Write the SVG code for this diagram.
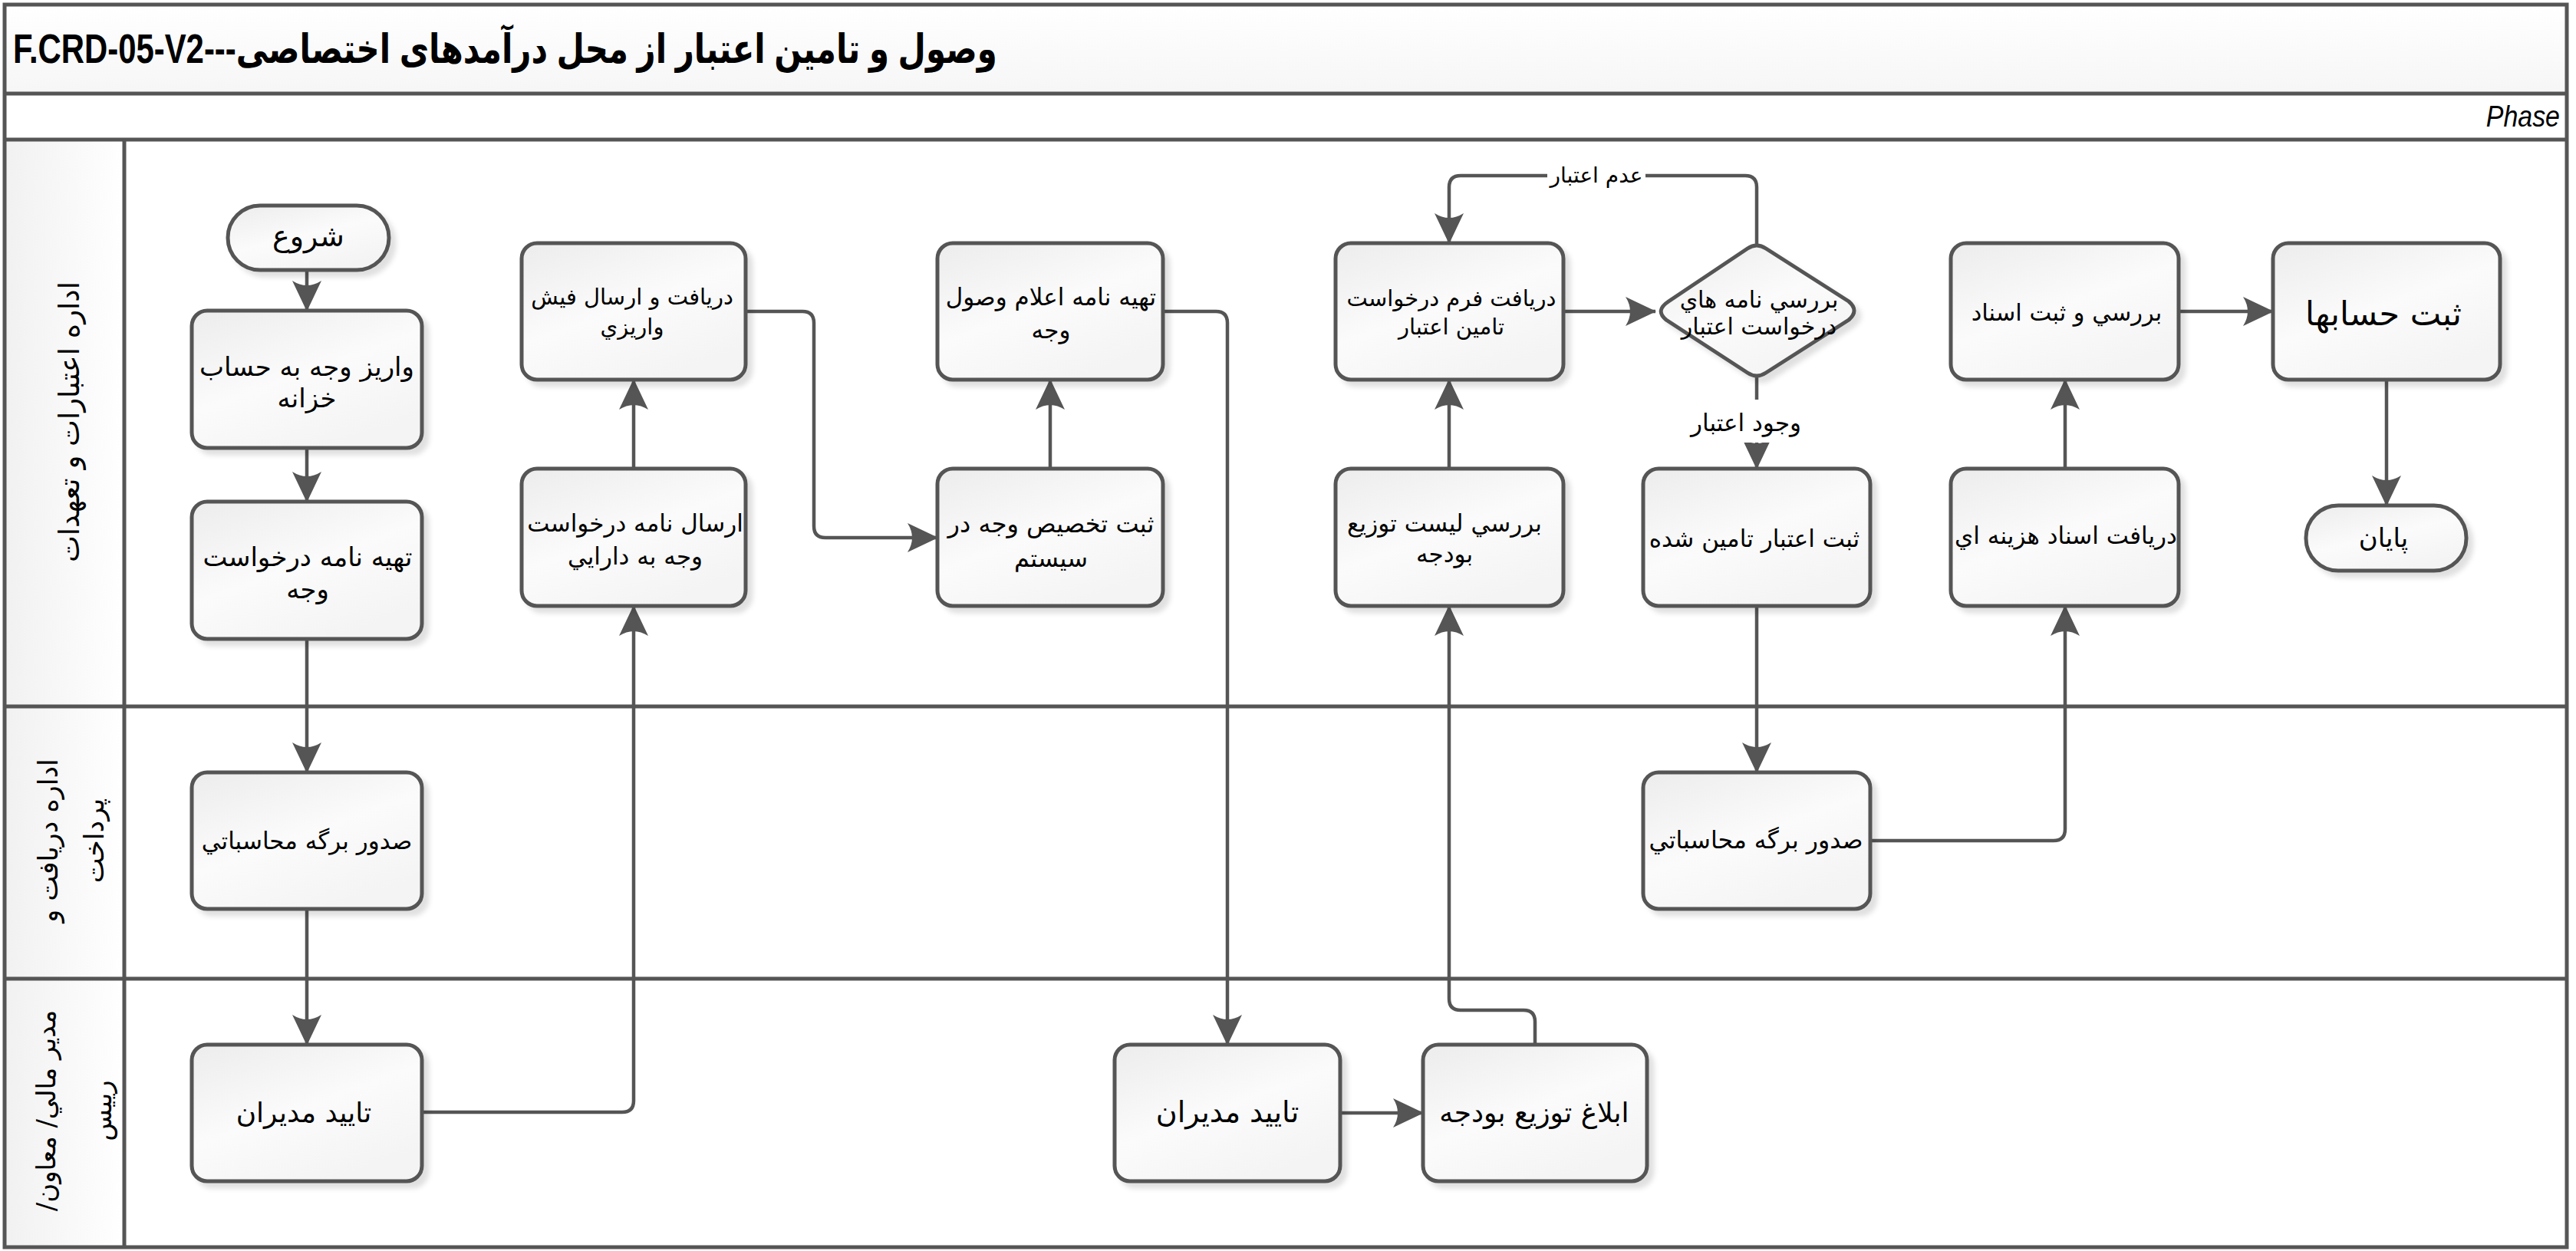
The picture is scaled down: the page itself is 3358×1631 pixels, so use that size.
<svg xmlns="http://www.w3.org/2000/svg" width="3358" height="1631" viewBox="0 0 3358 1631">
<style>
.frame{fill:none;stroke:#555;stroke-width:5}
.sep{stroke:#555;stroke-width:5}
.box{fill:url(#gBox);stroke:#555;stroke-width:5;filter:url(#sh)}
.t{font-family:"DejaVu Sans",sans-serif;fill:#000;direction:rtl;text-anchor:middle;dominant-baseline:central}
.c{fill:none;stroke:#555;stroke-width:4.5;marker-end:url(#ah)}
.lbl{font-family:"DejaVu Sans",sans-serif;fill:#000;direction:rtl;text-anchor:middle;dominant-baseline:central}
</style>
<defs>
<linearGradient id="gBox" x1="0" y1="0" x2="0.6" y2="1">
<stop offset="0" stop-color="#ececec"/><stop offset="0.55" stop-color="#fbfbfb"/><stop offset="1" stop-color="#f4f4f4"/>
</linearGradient>
<linearGradient id="gLane" x1="0" y1="0" x2="1" y2="0">
<stop offset="0" stop-color="#f1f1f1"/><stop offset="1" stop-color="#ffffff"/>
</linearGradient>
<linearGradient id="gTitle" x1="0" y1="0" x2="0" y2="1">
<stop offset="0" stop-color="#ffffff"/><stop offset="1" stop-color="#f6f6f6"/>
</linearGradient>
<filter id="sh" x="-10%" y="-10%" width="130%" height="130%">
<feDropShadow dx="7" dy="7" stdDeviation="3" flood-color="#000" flood-opacity="0.12"/>
</filter>
<marker id="ah" markerUnits="userSpaceOnUse" markerWidth="40" markerHeight="38" viewBox="0 0 40 38" refX="39" refY="19" orient="auto">
<path d="M40,19 L0,0 Q12,19 0,38 Z" fill="#555"/>
</marker>
</defs>

<g id="pool">
<rect x="6" y="6" width="3340" height="116" fill="url(#gTitle)"/>
<rect x="7" y="182" width="155" height="1444" fill="url(#gLane)"/>
<rect class="frame" x="6" y="6" width="3340" height="1620"/>
<line class="sep" x1="6" y1="122" x2="3346" y2="122"/>
<line class="sep" x1="6" y1="182" x2="3346" y2="182"/>
<line class="sep" x1="6" y1="921" x2="3346" y2="921"/>
<line class="sep" x1="6" y1="1276" x2="3346" y2="1276"/>
<line class="sep" x1="162" y1="182" x2="162" y2="1626"/>
<text transform="translate(17,64) scale(0.79,1)" x="0" y="0" font-family="'Liberation Sans','DejaVu Sans',sans-serif" font-weight="bold" font-size="53" direction="rtl" text-anchor="end" dominant-baseline="central">وصول و تامین اعتبار از محل درآمدهای اختصاصی---F.CRD-05-V2</text>
<text transform="translate(3337,152) scale(0.87,1)" x="0" y="0" font-family="'Liberation Sans',sans-serif" font-style="italic" font-size="39" text-anchor="end" dominant-baseline="central">Phase</text>
</g>

<g id="lane1"><text class="t" font-size="37" transform="translate(90,550) rotate(-90)">اداره اعتبارات و تعهدات</text></g>
<g id="lane2"><text class="t" font-size="35" transform="translate(93,1096) rotate(-90)"><tspan x="0" y="-30">اداره دريافت و</tspan><tspan x="0" y="30">پرداخت</tspan></text></g>
<g id="lane3"><text class="t" font-size="34" transform="translate(96,1448) rotate(-90)"><tspan x="0" y="-36">مدير مالي/ معاون/</tspan><tspan x="0" y="37">رييس</tspan></text></g>

<g id="connectors">
<path class="c" d="M400,352 V405"/>
<path class="c" d="M400,584 V654"/>
<path class="c" d="M400,833 V1007"/>
<path class="c" d="M400,1185 V1362"/>
<path class="c" d="M550,1450 H811 Q826,1450 826,1435 V790"/>
<path class="c" d="M826,611 V495"/>
<path class="c" d="M972,406 H1046 Q1061,406 1061,421 V686 Q1061,701 1076,701 H1222"/>
<path class="c" d="M1369,611 V495"/>
<path class="c" d="M1516,406 H1585 Q1600,406 1600,421 V1362"/>
<path class="c" d="M1747,1451 H1855"/>
<path class="c" d="M2001,1362 V1332 Q2001,1317 1986,1317 H1904 Q1889,1317 1889,1302 V790"/>
<path class="c" d="M1889,611 V495"/>
<path class="c" d="M2038,406 H2158"/>
<path class="c" d="M2290,318 V244 Q2290,229 2275,229 H1904 Q1889,229 1889,244 V317"/>
<rect x="2017" y="206" width="128" height="44" fill="#fff"/>
<text class="lbl" font-size="28" x="2081" y="228">عدم اعتبار</text>
<path class="c" d="M2290,492 V611"/>
<rect x="2198" y="521" width="156" height="56" fill="#fff"/>
<text class="lbl" font-size="31" x="2276" y="551">وجود اعتبار</text>
<path class="c" d="M2290,790 V1007"/>
<path class="c" d="M2438,1096 H2677 Q2692,1096 2692,1081 V790"/>
<path class="c" d="M2692,611 V495"/>
<path class="c" d="M2840,406 H2963"/>
<path class="c" d="M3111,495 V659"/>
</g>

<g id="start"><rect class="box" x="297" y="268" width="210" height="84" rx="42"/><text class="t" font-size="38" x="402" y="308">شروع</text></g>
<g id="n1"><rect class="box" x="250" y="405" width="300" height="179" rx="20"/><text class="t" font-size="34"><tspan x="400" y="478">واريز وجه به حساب</tspan><tspan x="400" y="519">خزانه</tspan></text></g>
<g id="n2"><rect class="box" x="250" y="654" width="300" height="179" rx="20"/><text class="t" font-size="34"><tspan x="401" y="726">تهيه نامه درخواست</tspan><tspan x="401" y="768">وجه</tspan></text></g>
<g id="n3"><rect class="box" x="250" y="1007" width="300" height="178" rx="20"/><text class="t" font-size="31" x="400" y="1096">صدور برگه محاسباتي</text></g>
<g id="n4"><rect class="box" x="250" y="1362" width="300" height="178" rx="20"/><text class="t" font-size="36" x="396" y="1450">تاييد مديران</text></g>
<g id="n5"><rect class="box" x="680" y="317" width="292" height="178" rx="20"/><text class="t" font-size="29"><tspan x="824" y="387">دريافت و ارسال فيش</tspan><tspan x="824" y="426">واريزي</tspan></text></g>
<g id="n6"><rect class="box" x="680" y="611" width="292" height="179" rx="20"/><text class="t" font-size="31"><tspan x="828" y="682">ارسال نامه درخواست</tspan><tspan x="828" y="725">وجه به دارايي</tspan></text></g>
<g id="n7"><rect class="box" x="1222" y="317" width="294" height="178" rx="20"/><text class="t" font-size="31"><tspan x="1370" y="387">تهيه نامه اعلام وصول</tspan><tspan x="1370" y="430">وجه</tspan></text></g>
<g id="n8"><rect class="box" x="1222" y="611" width="294" height="179" rx="20"/><text class="t" font-size="32"><tspan x="1370" y="683">ثبت تخصيص وجه در</tspan><tspan x="1370" y="728">سيستم</tspan></text></g>
<g id="n9"><rect class="box" x="1453" y="1362" width="294" height="178" rx="20"/><text class="t" font-size="38" x="1600" y="1450">تاييد مديران</text></g>
<g id="n10"><rect class="box" x="1855" y="1362" width="292" height="178" rx="20"/><text class="t" font-size="36" x="2000" y="1450">ابلاغ توزيع بودجه</text></g>
<g id="n11"><rect class="box" x="1741" y="317" width="297" height="178" rx="20"/><text class="t" font-size="29"><tspan x="1892" y="389">دريافت فرم درخواست</tspan><tspan x="1892" y="426">تامين اعتبار</tspan></text></g>
<g id="n12"><rect class="box" x="1741" y="611" width="297" height="179" rx="20"/><text class="t" font-size="31"><tspan x="1883" y="682">بررسي ليست توزيع</tspan><tspan x="1883" y="722">بودجه</tspan></text></g>
<g id="n13"><path class="box" d="M2175,393 L2278,324 Q2290,316 2302,324 L2410,393 Q2424,405 2410,417 L2302,486 Q2290,494 2278,486 L2172,417 Q2157,405 2175,393 Z"/><text class="t" font-size="30"><tspan x="2293" y="390">بررسي نامه هاي</tspan><tspan x="2293" y="425">درخواست اعتبار</tspan></text></g>
<g id="n14"><rect class="box" x="2142" y="611" width="296" height="179" rx="20"/><text class="t" font-size="31" x="2287" y="702">ثبت اعتبار تامين شده</text></g>
<g id="n15"><rect class="box" x="2142" y="1007" width="296" height="178" rx="20"/><text class="t" font-size="31.5" x="2289" y="1095">صدور برگه محاسباتي</text></g>
<g id="n16"><rect class="box" x="2543" y="611" width="297" height="179" rx="20"/><text class="t" font-size="31" x="2693" y="698">دريافت اسناد هزينه اي</text></g>
<g id="n17"><rect class="box" x="2543" y="317" width="297" height="178" rx="20"/><text class="t" font-size="30.5" x="2694" y="407">بررسي و ثبت اسناد</text></g>
<g id="n18"><rect class="box" x="2963" y="317" width="296" height="178" rx="20"/><text class="t" font-size="43" x="3107" y="409">ثبت حسابها</text></g>
<g id="end"><rect class="box" x="3006" y="659" width="209" height="85" rx="42"/><text class="t" font-size="34" x="3107" y="701">پايان</text></g>
</svg>
